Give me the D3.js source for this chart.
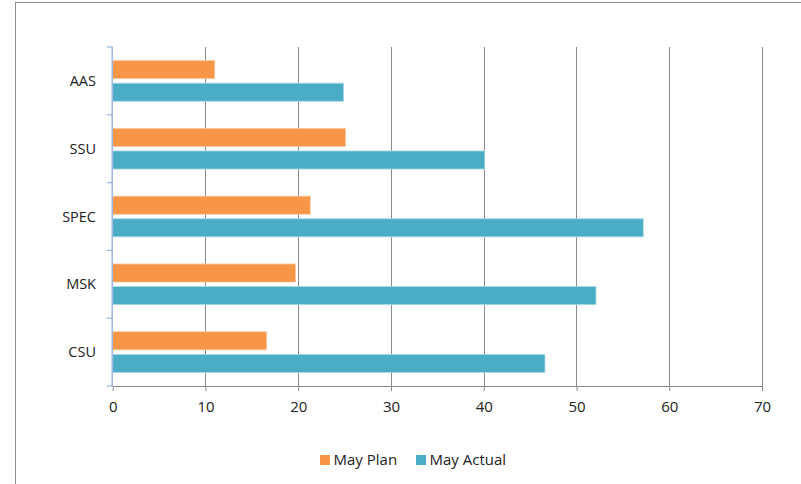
<!DOCTYPE html>
<html>
<head>
<meta charset="utf-8">
<script src="https://cdn.jsdelivr.net/npm/d3@7"></script>
<style>
  html, body { margin: 0; padding: 0; background: #fff; }
  svg { display: block; font-family: "Open Sans", Lato, "Liberation Sans", sans-serif; }
</style>
</head>
<body>
<svg id="chart" width="801" height="484"></svg>
<script>
const categories = ["AAS", "SSU", "SPEC", "MSK", "CSU"];
const seriesNames = ["May Plan", "May Actual"];
const mayPlan = [11.0, 25.1, 21.3, 19.7, 16.6];
const mayActual = [24.9, 40.1, 57.2, 52.1, 46.6];
const xTicks = [0, 10, 20, 30, 40, 50, 60, 70];
const colors = ["#F79646", "#4BACC6"];
const FONT = "'Open Sans', Lato, sans-serif";

const svg = d3.select("#chart");

// outer chart frame
svg.append("rect")
  .attr("x", 15.5).attr("y", 2.5)
  .attr("width", 900).attr("height", 600)
  .attr("fill", "none").attr("stroke", "#8c8c8c").attr("stroke-width", 1);

const plot = { left: 112.7, right: 762, top: 47, bottom: 386 };

const x = d3.scaleLinear().domain([0, 70]).range([plot.left, plot.right]);
const y = d3.scaleBand().domain(categories).range([plot.top, plot.bottom]).paddingInner(0).paddingOuter(0);
const inner = d3.scaleBand().domain(seriesNames).range([0, y.bandwidth()]).paddingInner(0.2).paddingOuter(0.6);

// gridlines
svg.append("g")
  .selectAll("line")
  .data(xTicks.slice(1))
  .join("line")
  .attr("x1", d => Math.round(x(d)) + 0.5).attr("x2", d => Math.round(x(d)) + 0.5)
  .attr("y1", plot.top).attr("y2", plot.bottom)
  .attr("stroke", "#8a8a8a").attr("stroke-width", 1);

// bars
const data = categories.map((c, i) => ({ c, vals: [mayPlan[i], mayActual[i]] }));
const groups = svg.append("g").selectAll("g")
  .data(data).join("g")
  .attr("transform", d => `translate(0,${y(d.c)})`);
groups.selectAll("rect")
  .data(d => d.vals.map((v, j) => ({ v, s: seriesNames[j], j })))
  .join("rect")
  .attr("x", x(0))
  .attr("y", d => inner(d.s))
  .attr("width", d => x(d.v) - x(0))
  .attr("height", inner.bandwidth())
  .attr("fill", d => colors[d.j])
  .attr("stroke", d => d.j === 0 ? "#FBC9A3" : "#A9DAE6")
  .attr("stroke-width", 0.8);

// bottom axis
const xAxis = d3.axisBottom(x).tickValues(xTicks).tickSize(5).tickPadding(10).tickFormat(d3.format("d"));
const gx = svg.append("g").attr("transform", `translate(0,${plot.bottom})`).call(xAxis);
gx.select(".domain").attr("stroke", "#8a8a8a").attr("d", `M${plot.left},0.5H${plot.right}`);
gx.selectAll(".tick line").attr("stroke", "#8a8a8a");
gx.selectAll("text").attr("font-size", 15).attr("fill", "#222").style("font-family", FONT);

// left axis
const yEdges = d3.scaleLinear().domain([0, categories.length]).range([plot.top, plot.bottom]);
const gy = svg.append("g");
gy.append("line")
  .attr("x1", plot.left - 0.5).attr("x2", plot.left - 0.5)
  .attr("y1", plot.top).attr("y2", plot.bottom)
  .attr("stroke", "#9DB5E0").attr("stroke-width", 1.5);
gy.selectAll("line.tk")
  .data(d3.range(categories.length + 1))
  .join("line").attr("class", "tk")
  .attr("x1", plot.left - 6).attr("x2", plot.left)
  .attr("y1", d => yEdges(d)).attr("y2", d => yEdges(d))
  .attr("stroke", "#9DB5E0").attr("stroke-width", 1.2);
gy.selectAll("text")
  .data(categories)
  .join("text")
  .attr("x", 96)
  .attr("y", d => y(d) + y.bandwidth() / 2)
  .attr("dy", "0.35em")
  .attr("text-anchor", "end")
  .attr("font-size", 14.5)
  .attr("fill", "#222")
  .text(d => d);

// legend
const legendItems = [
  { name: seriesNames[0], color: colors[0], x: 320 },
  { name: seriesNames[1], color: colors[1], x: 416 }
];
const lg = svg.append("g").selectAll("g").data(legendItems).join("g")
  .attr("transform", d => `translate(${d.x},455)`);
lg.append("rect").attr("width", 10).attr("height", 10).attr("fill", d => d.color);
lg.append("text").attr("x", 13.5).attr("y", 5).attr("dy", "0.35em")
  .attr("font-size", 15).attr("fill", "#222").text(d => d.name);
</script>
</body>
</html>
